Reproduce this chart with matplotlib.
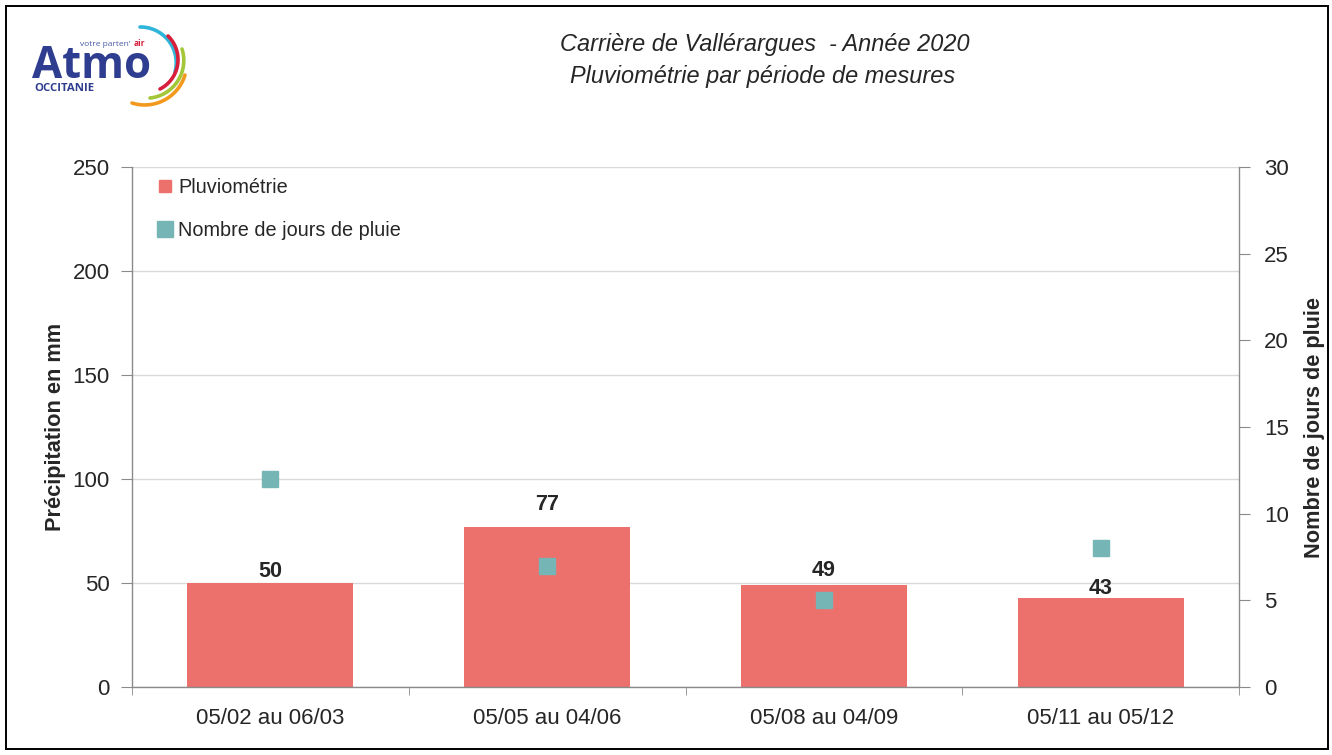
import numpy as np
import matplotlib
matplotlib.use("Agg")
import matplotlib.pyplot as plt
from matplotlib.lines import Line2D
from matplotlib.patches import Rectangle
from matplotlib.ticker import FixedLocator, MultipleLocator

# ---------------- data ----------------
categories = ["05/02 au 06/03", "05/05 au 04/06", "05/08 au 04/09", "05/11 au 05/12"]
pluviometrie = [50, 77, 49, 43]
jours_pluie = [12, 7, 5, 8]
title_lines = ["Carrière de Vallérargues  - Année 2020", "Pluviométrie par période de mesures"]
ylabel_left = "Précipitation en mm"
ylabel_right = "Nombre de jours de pluie"
legend_labels = ["Pluviométrie", "Nombre de jours de pluie"]

# ---------------- style ----------------
REG = ["Liberation Sans", "DejaVu Sans"]
plt.rcParams["font.family"] = REG
BAR_C = "#EC706C"
DOT_C = "#76B5B5"
SPINE_C = "#8A8A8A"
GRID_C = "#D9D9D9"
TXT_C = "#262626"
LABEL_GAP_PT = [4.3, 12.2, 6.5, 2.9]   # gap between bar top and its value label

W, H = 1332, 755
fig = plt.figure(figsize=(W / 100, H / 100), dpi=100)
fig.patch.set_facecolor("white")

# overlay (pixel coordinates) for frame and logo
ov = fig.add_axes([0, 0, 1, 1], zorder=0)
ov.set_xlim(0, W)
ov.set_ylim(H, 0)
ov.axis("off")
ov.add_patch(Rectangle((6, 6), 1322, 743, fill=False, edgecolor="black", linewidth=1.4))

# ---- logo ----
LOGO_FONT = ["Open Sans", "DejaVu Sans"]
ov.text(32, 78, "Atmo", fontsize=31.5, fontweight="bold", color="#2E3D8F",
        family=LOGO_FONT, ha="left", va="baseline")
ov.text(34, 91, "OCCITANIE", fontsize=8.2, fontweight="bold", color="#2E3D8F",
        family=LOGO_FONT, ha="left", va="baseline")
ov.text(80, 46, "votre parten'", fontsize=6.0, color="#4A5BA8",
        family=LOGO_FONT, ha="left", va="baseline")
ov.text(134, 46, "air", fontsize=6.0, fontweight="bold", color="#D71E3A",
        family=LOGO_FONT, ha="left", va="baseline")


def arc_through(p1, p2, p3, color):
    (x1, y1), (x2, y2), (x3, y3) = p1, p2, p3
    A = np.array([[x2 - x1, y2 - y1], [x3 - x2, y3 - y2]], dtype=float)
    b = 0.5 * np.array([x2**2 - x1**2 + y2**2 - y1**2, x3**2 - x2**2 + y3**2 - y2**2])
    cx, cy = np.linalg.solve(A, b)
    r = np.hypot(x1 - cx, y1 - cy)
    a1 = np.arctan2(y1 - cy, x1 - cx)
    a3 = np.arctan2(y3 - cy, x3 - cx)
    if a3 < a1:
        a3 += 2 * np.pi
    t = np.linspace(a1, a3, 60)
    ov.plot(cx + r * np.cos(t), cy + r * np.sin(t), color=color, linewidth=2.6,
            solid_capstyle="round")


arc_through((140, 27), (168, 40), (175, 72), "#2FB5D9")
arc_through((168, 36), (178, 60), (160, 89), "#D71E3A")
arc_through((182, 49), (182, 72), (150, 98), "#A4C639")
arc_through((185, 75), (173, 94), (132, 103), "#F39A1E")

# ---- title ----
fig.text(765 / W, 1 - 44 / H, title_lines[0], ha="center", va="center",
         fontsize=16.9, style="italic", color=TXT_C)
fig.text(763 / W, 1 - 77 / H, title_lines[1], ha="center", va="center",
         fontsize=16.9, style="italic", color=TXT_C)

# ---------------- main axes ----------------
left, right = 132 / W, 1239 / W
bottom, top = 1 - 687 / H, 1 - 167 / H
ax = fig.add_axes([left, bottom, right - left, top - bottom], zorder=2)
ax.patch.set_alpha(0)
x = list(range(len(categories)))
bars = ax.bar(x, pluviometrie, width=0.6, color=BAR_C, zorder=2)
ax.set_xlim(-0.5, len(categories) - 0.5)
ax.set_ylim(0, 250)
ax.yaxis.set_major_locator(MultipleLocator(50))
ax.grid(axis="y", color=GRID_C, linewidth=1.0, zorder=0)
ax.set_axisbelow(True)
for s in ["top", "right"]:
    ax.spines[s].set_visible(False)
for s in ["left", "bottom"]:
    ax.spines[s].set_color(SPINE_C)
    ax.spines[s].set_linewidth(1.0)
ax.set_xticks(x)
ax.set_xticklabels(categories)
ax.xaxis.set_minor_locator(FixedLocator([i - 0.5 for i in range(len(categories) + 1)]))
ax.tick_params(axis="x", which="major", length=0, pad=15, labelsize=16, labelcolor=TXT_C)
ax.tick_params(axis="x", which="minor", length=6, color=SPINE_C, direction="out")
ax.tick_params(axis="y", length=8, color=SPINE_C, pad=8, labelsize=16, labelcolor=TXT_C)
ax.set_ylabel(ylabel_left, fontsize=15.7, fontweight="bold", color=TXT_C, labelpad=5)

for rect, v, gap in zip(bars, pluviometrie, LABEL_GAP_PT):
    ax.annotate(f"{v}", (rect.get_x() + rect.get_width() / 2, v), xytext=(0, gap),
                textcoords="offset points", ha="center", va="baseline",
                fontsize=15.5, fontweight="bold", color=TXT_C, zorder=5)

ax2 = ax.twinx()
ax2.set_ylim(0, 30)
ax2.yaxis.set_major_locator(MultipleLocator(5))
for s in ["top", "left", "bottom"]:
    ax2.spines[s].set_visible(False)
ax2.spines["right"].set_color(SPINE_C)
ax2.spines["right"].set_linewidth(1.0)
ax2.tick_params(axis="y", length=8, color=SPINE_C, pad=10, labelsize=16, labelcolor=TXT_C)
ax2.plot(x, jours_pluie, linestyle="none", marker="s", markersize=12,
         color=DOT_C, markeredgecolor=DOT_C, zorder=4)
ax2.set_ylabel(ylabel_right, fontsize=15.7, fontweight="bold", color=TXT_C, labelpad=11)

handles = [
    Line2D([], [], linestyle="none", marker="s", markersize=8, color=BAR_C),
    Line2D([], [], linestyle="none", marker="s", markersize=11.5, color=DOT_C),
]
leg = ax2.legend(handles, legend_labels, loc="upper left",
                 bbox_to_anchor=(157 / W, 1 - 178 / H), bbox_transform=fig.transFigure,
                 frameon=False, fontsize=14.3, handlelength=0.8, handletextpad=0.26,
                 labelspacing=1.2, borderaxespad=0, borderpad=0)
for t in leg.get_texts():
    t.set_color(TXT_C)

fig.savefig("out.png", dpi=100, facecolor="white")
